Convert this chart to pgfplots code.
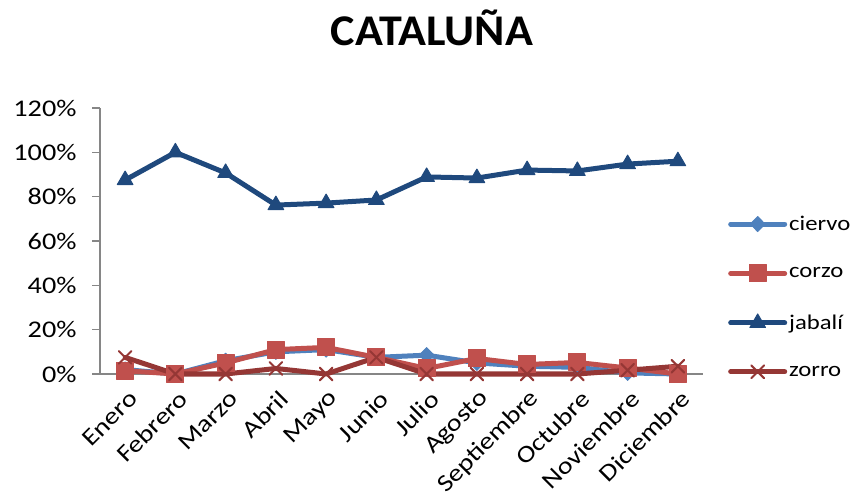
\documentclass[border=0pt]{standalone}
\usepackage{fontspec}
\setmainfont{Carlito}[FakeStretch=1.18]
\newfontfamily\titlefont{Carlito}[FakeStretch=1.05]
\usepackage{pgfplots}
\pgfplotsset{compat=1.18}

\definecolor{ciervoc}{HTML}{4F81BD}
\definecolor{corzoc}{HTML}{C0504D}
\definecolor{jabalic}{HTML}{1F497D}
\definecolor{zorroc}{HTML}{953735}
\definecolor{axisgray}{HTML}{868686}

\newcommand{\tickfont}{\fontsize{24}{28}\selectfont}
\newcommand{\legfont}{\fontsize{21}{25}\selectfont}

\begin{document}
\begin{tikzpicture}
\path[use as bounding box] (0,0) rectangle (854bp,498bp);
\begin{axis}[
    at={(100bp,124bp)}, anchor=south west,
    scale only axis, width=603bp, height=266bp,
    xmin=-0.5, xmax=11.5, ymin=0, ymax=120,
    axis x line=bottom, axis y line=left,
    axis line style={axisgray, line width=1.5bp, -},
    xtick={0,...,11},
    xticklabels={Enero,Febrero,Marzo,Abril,Mayo,Junio,Julio,Agosto,Septiembre,Octubre,Noviembre,Diciembre},
    x tick style={draw=none},
    ytick={0,20,...,120},
    yticklabels={0\%,20\%,40\%,60\%,80\%,100\%,120\%},
    y tick style={axisgray, line width=1.5bp},
    tick align=outside, major tick length=8bp,
    yticklabel style={font=\tickfont, text=black, xshift=-12bp},
    xticklabel style={font=\tickfont, text=black, rotate=45, anchor=east, xshift=0bp, yshift=-15bp},
    legend style={at={(1,0.29)}, anchor=west, xshift=22bp, draw=none, fill=none,
        font=\legfont, row sep=31bp,
        legend cell align=left},
    legend image code/.code={\draw[mark repeat=2, mark phase=2, #1]
        plot coordinates {(0bp,0bp) (27bp,0bp) (54bp,0bp)};},
    every axis plot/.append style={line width=5bp, line join=round, line cap=round},
    clip=false,
]
\addplot[color=ciervoc, mark=diamond*, mark size=7.5bp, mark options={line width=1bp, xscale=1.3}]
coordinates {(0,2) (1,0) (2,6) (3,10) (4,11) (5,7.5) (6,8.5) (7,5) (8,3.5) (9,3) (10,0.5) (11,0)};
\addlegendentry{ciervo}
\addplot[color=corzoc, mark=square*, mark size=8.5bp, mark options={line width=1bp}]
coordinates {(0,1.5) (1,0) (2,5) (3,11) (4,12) (5,7.5) (6,2.5) (7,7) (8,4.3) (9,5.2) (10,2.7) (11,0)};
\addlegendentry{corzo}
\addplot[color=jabalic, mark=triangle*, mark size=9bp, mark options={line width=1bp}]
coordinates {(0,87.5) (1,100) (2,90.7) (3,76.2) (4,77.1) (5,78.5) (6,88.9) (7,88.4) (8,92) (9,91.6) (10,94.7) (11,96)};
\addlegendentry{jabalí}
\addplot[color=zorroc, mark=x, mark size=9bp, mark options={line width=2bp}]
coordinates {(0,7.5) (1,0) (2,0) (3,2.5) (4,0) (5,7.5) (6,0) (7,0) (8,0) (9,0) (10,1.7) (11,3.5)};
\addlegendentry{zorro}
\end{axis}
\node[anchor=base, inner sep=0pt] at (432bp,452bp) {\titlefont\fontsize{44}{50}\selectfont\bfseries CATALUÑA};
\end{tikzpicture}
\end{document}
